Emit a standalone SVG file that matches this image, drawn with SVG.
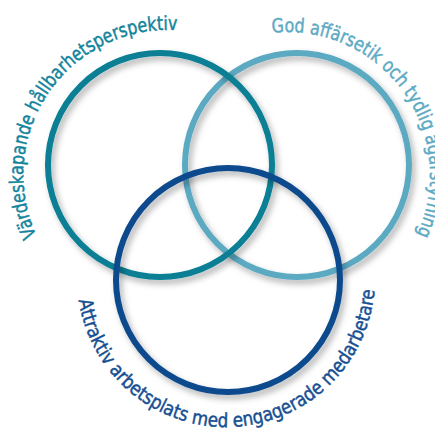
<svg xmlns="http://www.w3.org/2000/svg" width="435" height="428" viewBox="0 0 435 428">
  <style>
    .ring { fill: none; stroke-width: 6; filter: url(#shadow); }
    .lbl { font-family: "DejaVu Sans Condensed", "Liberation Sans Narrow", "Liberation Sans", sans-serif; font-size: 19.5px; stroke-width: 0.45; }
  </style>
  <defs>
    <filter id="shadow" x="-20%" y="-20%" width="140%" height="140%">
      <feDropShadow dx="3" dy="4" stdDeviation="3" flood-color="#000" flood-opacity="0.3"/>
    </filter>
    <path id="p1" d="M36.5,235.5 A145,145 0 0 1 178.1,30.2"/>
    <path id="p2" d="M272.1,32.8 A143,143 0 0 1 416.9,234.8"/>
    <path id="p3" d="M78.6,300 A149,149 0 0 0 374.5,290"/>
  </defs>
  <rect width="435" height="428" fill="#fff"/>
  <g id="connectors"/>
  <g id="node-ethics">
    <circle class="ring" cx="297" cy="165" r="112" stroke="#5ca9c2"/>
    <text class="lbl" fill="#5eaac4" stroke="#5eaac4"><textPath href="#p2" textLength="301" lengthAdjust="spacingAndGlyphs">God affärsetik och tydlig ägarstyrning</textPath></text>
  </g>
  <g id="node-sustainability">
    <circle class="ring" cx="160" cy="165" r="112" stroke="#077f95"/>
    <text class="lbl" fill="#13849c" stroke="#13849c"><textPath href="#p1" textLength="299" lengthAdjust="spacingAndGlyphs">Värdeskapande hållbarhetsperspektiv</textPath></text>
  </g>
  <g id="node-workplace">
    <circle class="ring" cx="228" cy="280" r="112" stroke="#0c4a8d"/>
    <text class="lbl" fill="#164f92" stroke="#164f92"><textPath href="#p3" textLength="434" lengthAdjust="spacingAndGlyphs">Attraktiv arbetsplats med engagerade medarbetare</textPath></text>
  </g>
</svg>
